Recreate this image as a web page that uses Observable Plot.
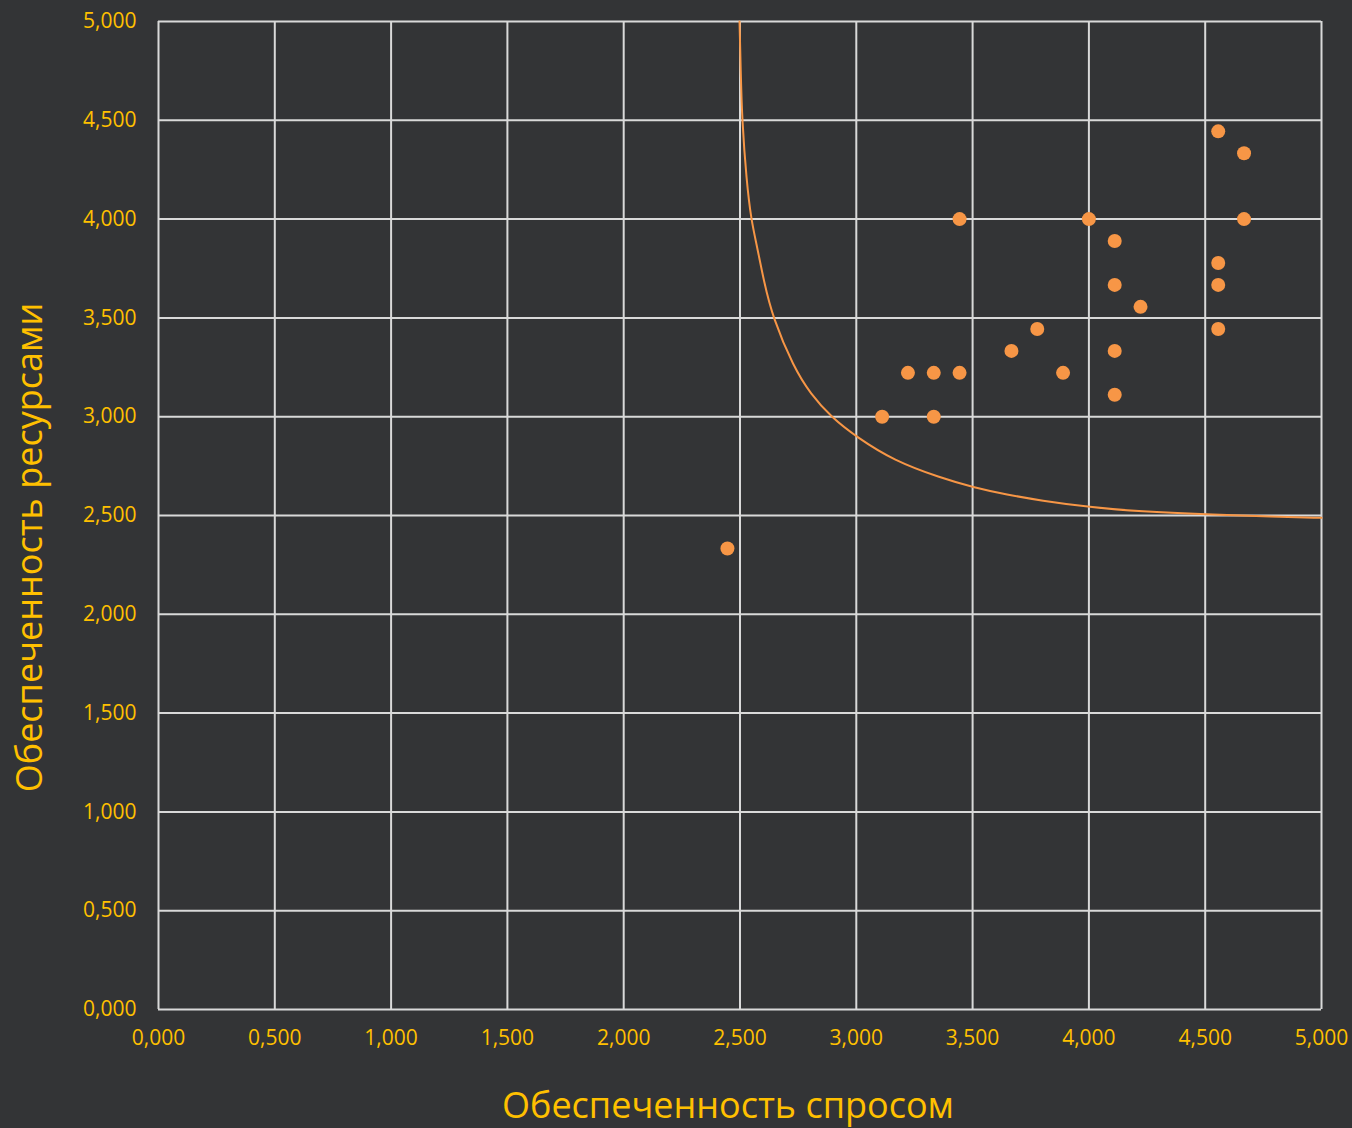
<!DOCTYPE html>
<html>
<head>
<meta charset="utf-8">
<script src="https://cdn.jsdelivr.net/npm/d3@7"></script>
<script src="https://cdn.jsdelivr.net/npm/@observablehq/plot@0.6"></script>
<style>
  html, body { margin: 0; padding: 0; background: #333436; }
  #chart { width: 1352px; height: 1128px; }
</style>
</head>
<body>
<div id="chart"></div>
<script>
// Scatter points
const pointX = [2.446, 3.111, 3.222, 3.333, 3.333, 3.444, 3.444, 3.667, 3.778, 3.889, 4.0, 4.111, 4.111, 4.111, 4.111, 4.222, 4.556, 4.556, 4.556, 4.556, 4.667, 4.667];
const pointY = [2.333, 3.0, 3.222, 3.222, 3.0, 3.222, 4.0, 3.333, 3.444, 3.222, 4.0, 3.889, 3.667, 3.333, 3.111, 3.556, 4.444, 3.778, 3.667, 3.444, 4.333, 4.0];

// Boundary curve
const curveX = [2.498, 2.503, 2.509, 2.528, 2.548, 2.574, 2.602, 2.641, 2.731, 2.803, 2.893, 3.003, 3.161, 3.362, 3.502, 3.649, 3.792, 4.003, 4.222, 4.504, 4.795, 5.0];
const curveY = [5.0, 4.75, 4.5, 4.195, 3.996, 3.858, 3.689, 3.5, 3.25, 3.116, 2.997, 2.896, 2.778, 2.691, 2.643, 2.605, 2.576, 2.542, 2.52, 2.505, 2.495, 2.488];

// Ticks
const ticks = [0, 0.5, 1, 1.5, 2, 2.5, 3, 3.5, 4, 4.5, 5];
const xTitle = "Обеспеченность спросом";
const yTitle = "Обеспеченность ресурсами";

const points = pointX.map((x, i) => ({x, y: pointY[i]}));
const curve = curveX.map((x, i) => ({x, y: curveY[i]}));
const fmt = d => d3.format(".3f")(d).replace(".", ",");

const gold = "#FFC000";
const orange = "#F79646";
const grid = "#D9D9D9";

const chart = Plot.plot({
  width: 1352,
  height: 1128,
  marginLeft: 158,
  marginRight: 31,
  marginTop: 21,
  marginBottom: 119,
  style: {background: "#333436", fontFamily: "'Open Sans', sans-serif"},
  x: {domain: [0, 5]},
  y: {domain: [0, 5]},
  marks: [
    Plot.gridX(ticks, {stroke: grid, strokeOpacity: 1, strokeWidth: 2}),
    Plot.gridY(ticks, {stroke: grid, strokeOpacity: 1, strokeWidth: 2}),
    Plot.axisX(ticks, {tickSize: 0, tickPadding: 21, tickFormat: fmt, fill: gold, fontSize: 21, label: null}),
    Plot.axisY(ticks, {tickSize: 0, tickPadding: 22, tickFormat: fmt, fill: gold, fontSize: 21, label: null}),
    Plot.line(curve, {x: "x", y: "y", stroke: orange, strokeWidth: 2, curve: "basis"}),
    Plot.dot(points, {x: "x", y: "y", r: 7, fill: orange, stroke: "none"}),
    Plot.text([xTitle], {frameAnchor: "bottom", dy: 108, dx: -12, fontSize: 36, fill: gold}),
    Plot.text([yTitle], {frameAnchor: "left", textAnchor: "middle", rotate: -90, dx: -128, dy: 32, fontSize: 36, fill: gold})
  ]
});
document.getElementById("chart").appendChild(chart);
</script>
</body>
</html>
